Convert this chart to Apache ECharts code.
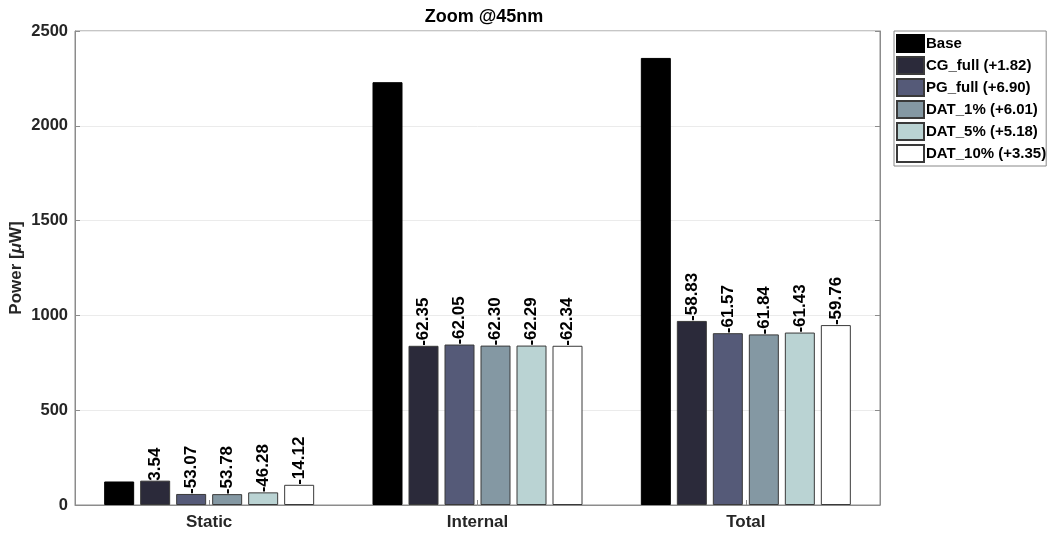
<!DOCTYPE html>
<html>
<head>
<meta charset="utf-8">
<script src="https://cdn.jsdelivr.net/npm/echarts@6/dist/echarts.min.js"></script>
<style>
  html, body { margin: 0; padding: 0; background: #fff; }
  #chart { width: 1049px; height: 533px; }
</style>
</head>
<body>
<div id="chart"></div>
<script>
// Power per component (µW) at 45nm, for each power-management scheme
const categories = ['Static', 'Internal', 'Total'];

const seriesNames = [
  'Base',
  'CG_full (+1.82)',
  'PG_full (+6.90)',
  'DAT_1% (+6.01)',
  'DAT_5% (+5.18)',
  'DAT_10% (+3.35)'
];

const baseValues   = [124.0, 2230.0, 2358.0];
const cgValues     = [128.4, 839.6, 970.8];
const pgValues     = [58.2, 846.3, 906.2];
const dat1Values   = [57.3, 840.7, 899.8];
const dat5Values   = [66.6, 840.9, 909.5];
const dat10Values  = [106.5, 839.8, 948.9];

// Change relative to Base, in percent (shown above each bar)
const cgChange    = ['3.54', '-62.35', '-58.83'];
const pgChange    = ['-53.07', '-62.05', '-61.57'];
const dat1Change  = ['-53.78', '-62.30', '-61.84'];
const dat5Change  = ['-46.28', '-62.29', '-61.43'];
const dat10Change = ['-14.12', '-62.34', '-59.76'];

const yTicks = [0, 500, 1000, 1500, 2000, 2500];

const colors = ['#000000', '#2b2a3a', '#555a78', '#8498a3', '#bad3d3', '#ffffff'];
const valueSets = [baseValues, cgValues, pgValues, dat1Values, dat5Values, dat10Values];
const changeSets = [null, cgChange, pgChange, dat1Change, dat5Change, dat10Change];

const FONT = 'Liberation Sans, Arial, sans-serif';

const series = seriesNames.map((name, i) => ({
  name: name,
  type: 'bar',
  barWidth: 30,
  barGap: '20%',
  data: valueSets[i],
  itemStyle: {
    color: colors[i],
    borderColor: i === 0 ? '#000000' : '#3a3a3a',
    borderWidth: 1
  },
  label: changeSets[i] ? {
    show: true,
    position: 'top',
    rotate: 90,
    align: 'left',
    verticalAlign: 'middle',
    distance: 0,
    color: '#000',
    fontFamily: FONT,
    fontWeight: 'bold',
    fontSize: 17,
    formatter: p => changeSets[i][p.dataIndex]
  } : { show: false }
}));

const chart = echarts.init(document.getElementById('chart'), null, { renderer: 'canvas' });

chart.setOption({
  animation: false,
  backgroundColor: '#ffffff',
  title: {
    text: 'Zoom @45nm',
    left: 479,
    textAlign: 'center',
    top: 3,
    textStyle: { fontFamily: FONT, fontWeight: 'bold', fontSize: 18, color: '#000' }
  },
  legend: {
    orient: 'vertical',
    left: 894,
    top: 31,
    itemWidth: 27,
    itemHeight: 17,
    itemGap: 3,
    padding: [3, 0, 3, 2],
    borderColor: '#888',
    borderWidth: 1,
    backgroundColor: '#fff',
    icon: 'rect',
    textStyle: { fontFamily: FONT, fontWeight: 'bold', fontSize: 15, color: '#000', padding: [0, 0, 0, -3] },
    data: seriesNames
  },
  grid: {
    left: 75, right: 169, top: 31, bottom: 28,
    outerBoundsMode: 'none',
    containLabel: false,
    show: true,
    borderColor: '#8c8c8c',
    borderWidth: 1
  },
  xAxis: {
    type: 'category',
    data: categories,
    axisLine: { show: true, lineStyle: { color: '#8c8c8c' } },
    axisTick: { show: true, inside: true, alignWithLabel: true, length: 5, lineStyle: { color: '#8c8c8c' } },
    axisLabel: { fontFamily: FONT, fontWeight: 'bold', fontSize: 17, color: '#262626', margin: 9 }
  },
  yAxis: [{
    type: 'value',
    min: 0,
    max: 2500,
    interval: 500,
    name: '{a|Power [}{b|μ}{a|W]}',
    nameLocation: 'middle',
    nameRotate: 90,
    nameGap: 50,
    nameMoveOverlap: false,
    nameTextStyle: {
      rich: {
        a: { fontFamily: FONT, fontWeight: 'bold', fontSize: 17, color: '#262626' },
        b: { fontFamily: FONT, fontWeight: 'bold', fontStyle: 'italic', fontSize: 17, color: '#262626' }
      }
    },
    axisLine: { show: true, lineStyle: { color: '#8c8c8c' } },
    axisTick: { show: true, inside: true, length: 5, lineStyle: { color: '#8c8c8c' } },
    axisLabel: {
      fontFamily: FONT, fontWeight: 'bold', fontSize: 16.5, color: '#262626', margin: 7,
      formatter: v => yTicks.includes(v) ? String(v) : ''
    },
    splitLine: { show: true, lineStyle: { color: '#ebebeb', width: 1 } }
  }, {
    type: 'value',
    position: 'right',
    min: 0,
    max: 2500,
    interval: 500,
    axisLine: { show: true, lineStyle: { color: '#8c8c8c' } },
    axisTick: { show: true, inside: true, length: 5, lineStyle: { color: '#8c8c8c' } },
    axisLabel: { show: false },
    splitLine: { show: false }
  }],
  series: series
});
</script>
</body>
</html>
